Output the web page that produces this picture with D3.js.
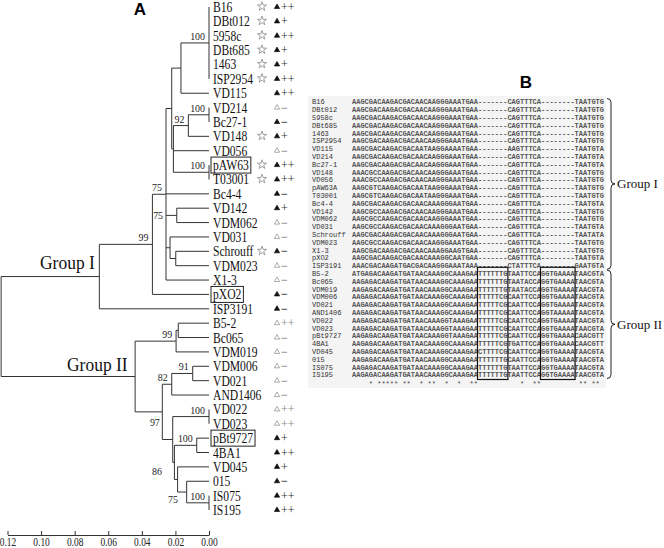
<!DOCTYPE html>
<html><head><meta charset="utf-8">
<script src="https://cdn.jsdelivr.net/npm/d3@7"></script>
<style>body{margin:0;background:#fff}</style>
</head><body>
<svg id="c" width="664" height="548"></svg>
<script>
// ---------- DATA ----------
const leafNames = ["B16","DBt012","5958c","DBt685","1463","ISP2954","VD115","VD214","Bc27-1","VD148","VD056","pAW63","T03001","Bc4-4","VD142","VDM062","VD031","Schrouff","VDM023","X1-3","pXO2","ISP3191","B5-2","Bc065","VDM019","VDM006","VD021","AND1406","VD022","VD023","pBt9727","4BA1","VD045","015","IS075","IS195"];
const hasStar = [1,1,1,1,1,1,0,0,0,1,0,1,1,0,0,0,0,1,0,0,0,0,0,0,0,0,0,0,0,0,0,0,0,0,0,0];
const triangleType = ["f","f","f","f","f","f","f","o","f","f","o","f","f","f","f","o","o","f","o","o","f","f","o","o","o","o","o","o","o","o","f","f","f","f","f","f"];
const activity = ["++","+","++","+","+","++","++","−","−","+","−","++","++","−","+","−","−","−","−","−","−","−","++","−","−","−","−","−","++","++","+","++","+","−","++","++"];
const boxedLeaves = ["pAW63","pXO2","pBt9727"];
const axisTicks = [0.12,0.10,0.08,0.06,0.04,0.02,0.00];

// tree: internal nodes {id, h: distance, b: bootstrap, c: children}; leaves = index into leafNames
const tree = {id:"root", h:0.1238, c:[
  {id:"g1", h:0.0653, c:[
    {id:"n457", h:0.0337, b:"99", c:[
      {id:"n498", h:0.0256, b:"75", c:[
        {id:"n515", h:0.0222, c:[
          {id:"a1", h:0.0167, c:[{id:"t0", h:0, b:"100", c:[0,1,2,3,4,5]}, 6]},
          {id:"nr", h:0.0212, c:[
            {id:"n92", h:0.0123, b:"92", c:[{id:"t7", h:0, b:"100", c:[7,8]}, 9]},
            10,
            {id:"t11", h:0, b:"100", c:[11,12]}
          ]}
        ]},
        13,
        {id:"n530", h:0.0192, b:"75", c:[14,15]},
        {id:"n510", h:0.0232, c:[16, {id:"n527", h:0.0198, c:[17,18]}]},
        19
      ]},
      20
    ]},
    21
  ]},
  {id:"g2", h:0.0440, c:[
    {id:"n99", h:0.0196, b:"99", c:[{id:"nb5", h:0.0183, c:[22,23]}, 24]},
    {id:"n97", h:0.0278, b:"97", c:[
      {id:"n82", h:0.0222, b:"82", c:[{id:"n91", h:0.0097, b:"91", c:[25,26]}, 27]},
      {id:"nq", h:0.0216, c:[
        {id:"t28", h:0, b:"100", c:[28,29]},
        {id:"n86", h:0.0206, b:"86", c:[
          {id:"t30", h:0.0073, b:"100", c:[30,31]},
          {id:"n533", h:0.0187, c:[32, {id:"n560", h:0.0133, b:"75", c:[33, {id:"t34", h:0, b:"100", c:[34,35]}]}]}
        ]}
      ]}
    ]}
  ]}
]};

// panel B alignment
const alignNames = ["B16","DBt012","5958c","DBt685","1463","ISP2954","VD115","VD214","Bc27-1","VD148","VD056","pAW63A","T03001","Bc4-4","VD142","VDM062","VD031","Schrouff","VDM023","X1-3","pXO2","ISP3191","B5-2","Bc065","VDM019","VDM006","VD021","AND1406","VD022","VD023","pBt9727","4BA1","VD045","015","IS075","IS195"];
const alignSeqs = [
"AAGCGACAAGACGACAACAAGGGAAATGAA|-------|CAGTTTCA|--------|TAATGTG",
"AAGCGACAAGACGACAACAAGGGAAATGAA|-------|CAGTTTCA|--------|TAATGTG",
"AAGCGACAAGACGACAACAAGGGAAATGAA|-------|CAGTTTCA|--------|TAATGTG",
"AAGCGACAAGACGACAACAAGGGAAATGAA|-------|CAGTTTCA|--------|TAATGTG",
"AAGCGACAAGACGACAACAAGGGAAATGAA|-------|CAGTTTCA|--------|TAATGTG",
"AAGCGACAAGACGACAACAAGGGAAATGAA|-------|CAGTTTCA|--------|TAATGTG",
"AAGCGACAAGACGACAATAAGGAAAATGAA|-------|AAGTTTCA|--------|TAATGTA",
"AAGCGACAAGACGACAACAAGGGAAATGAA|-------|CAGTTTCA|--------|TAATGTA",
"AAGCGACAAGACGACAACAAGGGAAATGAA|-------|CAGTTTCA|--------|TAATGTA",
"AAACGCCAAGACGACAACAAGGGAAATGAA|-------|CAGTTTCA|--------|TAATGTG",
"AAACGCCAAGACGACAACAAGGGAAATGAA|-------|CAGTTTCA|--------|TAATGTG",
"AAGCGTCAAGACGACAATAAGGGAAATGAA|-------|CAGTTTCA|--------|TAATGTG",
"AAGCGTCAAGACGACAATAAGGGAAATGAA|-------|CAGTTTCA|--------|TAATGTG",
"AAGCGACAAGACGACAACAAAGGGAATGAA|-------|CAGTTTCA|--------|TAATGTA",
"AAGCGCCAAGACGACAACAAGGGAAATGAA|-------|CAGTTTCA|--------|TAATGTG",
"AAGCGCCAAGACGACAACAAGGGAAATGAA|-------|CAGTTTCA|--------|TAATGTG",
"AAGCGCCAAGACGACAACAAAGGGAATGAA|-------|CAGTTTCA|--------|TAATGTA",
"AAGCGACAAGACGACAACAAAGGGAATGAA|-------|CAGTTTCA|--------|TAATATA",
"AAGCGCCAAGACGACAACAAGGGAAATGAA|-------|CAGTTTCA|--------|TAATGTG",
"AAGCGACAAGACGACAACAAAGGAAGTGAA|-------|CAGTTTCA|--------|TAATGTG",
"AAGCGACAAGACGACAACAAAGGCAATGAA|-------|CAGTTTCA|--------|TAATGTA",
"AAACGACAAGATGACGACAAGGGAAATAAA|-------|CTATTTCA|--------|GAATGTA",
"ATGAGACAAGATGATAACAAAGGCAAAGAA|TTTTTTG|TAATTCCA|GGTGAAAA|TAACGTA",
"AAGAGACAAGATGATAACAAAGGCAAAGAA|TTTTTTG|TAATACCA|GGTGAAAA|TAACGTA",
"AAGAGACAAGATGATAACAAAGGCAAAGAA|TTTTTTG|TAATACCA|GGTGAAAA|TAACGTA",
"AAGAGACAAGATGATAACAAAGGCAAAGAA|TTTTTCG|CAATTCCA|GGTGAAAA|TAACGTA",
"AAGAGACAAGATGATAACAAAGGCAAAGAA|TTTTTCG|CAATTCCA|GGTGAAAA|TAACGTA",
"AAGAGACAAGATGATAACAAAGGCAAAGAA|TTTTTCG|CAATTCCA|GGTAAAAA|TAACGTA",
"AAGAGACAAGATGATAACAAAGGTAAAGAA|TTTTTCG|CAATTCCA|GGTGAAAA|TAACGTA",
"AAGAGACAAGATGATAACAAAGGTAAAGAA|TTTTTCG|CAATTCCA|GGTGAAAA|TAACGTA",
"AAGAGACAAGATGATAACAAAGGTAAAGAA|TTTTTCG|CAATTCCA|GGTGAAAA|CAACGTT",
"AAGAGACAAGATGATAACAAAGGCAAAGAA|TTTTTCG|TGATTCCA|GGTGAAAA|CAACGTT",
"AAGAGACAAGATGATAACAAAGGCAAAGAA|CTTTTCG|CAATTCCA|GGTGAAAA|TAACGTA",
"AAGAGACAAGATGATAACAAAGGCAAAGAA|TTTTTTG|CAATTCCA|GGTGAAAA|TAACGTA",
"AAGAGACAAGATGATAACAAAGGCAAAGAA|TTTTTTG|TAATTCCA|GGTGAAAA|TAACGTA",
"AAGAGACAAGATGATAACAAAGGCAAAGAA|TTTTTTG|TAATTCCA|GGTGAAAA|TAACGTA"
];
const conservedCols = [4,6,7,8,9,10,12,13,16,18,19,22,25,28,29,40,43,44,54,55,57,58];
const boxedCols = [[30,37],[45,53]];
const groups = [{name:"Group I", from:0, to:21},{name:"Group II", from:22, to:35}];

// ---------- DRAW ----------
const svg = d3.select("#c");
const serif = "'Liberation Serif','Times New Roman',serif";
const mono = "'Liberation Mono','Courier New',monospace";

const x = d3.scaleLinear().domain([0.12, 0]).range([7.5, 209]);
const y = d3.scaleLinear().domain([0, leafNames.length - 1]).range([7, 510]);

function layout(n){
  if (typeof n === "number") return {leaf:true, i:n, h:0, y:y(n)};
  const kids = n.c.map(layout);
  return {id:n.id, h:n.h, b:n.b, kids, y:(kids[0].y + kids[kids.length-1].y)/2};
}
const root = layout(tree);
const nodes = [];
(function walk(n){ if (n.leaf) return; nodes.push(n); n.kids.forEach(walk); })(root);

const gTree = svg.append("g").attr("stroke","#333").attr("stroke-width",1).attr("fill","none");
nodes.forEach(n => {
  const nx = x(n.h);
  gTree.append("line").attr("x1",nx).attr("x2",nx)
    .attr("y1",n.kids[0].y).attr("y2",n.kids[n.kids.length-1].y);
  n.kids.forEach(k => {
    gTree.append("line").attr("x1",nx).attr("x2",x(k.h)).attr("y1",k.y).attr("y2",k.y);
  });
});

// bootstrap labels
const nudge = {n530:[-9.7,6.6], n97:[1.5,17], n86:[-8.4,15.6], n560:[-4.7,14]};
nodes.filter(n => n.b).forEach(n => {
  const d = nudge[n.id] || [0,0];
  svg.append("text")
    .attr("transform", `translate(${x(n.h) - 4 + d[0]},${n.y - 3 + d[1]}) scale(0.9,1)`)
    .attr("text-anchor","end").attr("font-family",serif).attr("font-size",11).attr("fill","#222")
    .text(n.b);
});

// group labels
svg.append("text").attr("transform","translate(40,268.5) scale(0.92,1)")
  .attr("font-family",serif).attr("font-size",19).attr("fill","#111").text("Group I");
svg.append("text").attr("transform","translate(67,371) scale(0.92,1)")
  .attr("font-family",serif).attr("font-size",19).attr("fill","#111").text("Group II");

// leaves
leafNames.forEach((name, i) => {
  const ly = y(i);
  const t = svg.append("text")
    .attr("transform", `translate(213,${ly + 5}) scale(0.83,1)`)
    .attr("font-family",serif).attr("font-size",14).attr("fill","#111").text(name);
  const w = t.node().getComputedTextLength() * 0.83;
  if (boxedLeaves.includes(name)) {
    svg.append("rect").attr("x",211).attr("y",ly - 8).attr("width",w + 4).attr("height",16)
      .attr("fill","none").attr("stroke","#222").attr("stroke-width",1);
  }
  if (hasStar[i]) {
    svg.append("path").attr("d", d3.symbol(d3.symbolStar, 26)())
      .attr("transform", `translate(${Math.max(262, 213 + w + 6)},${ly - 0.5})`)
      .attr("fill","none").attr("stroke","#8a8a8a").attr("stroke-width",0.8);
  }
  const filled = triangleType[i] === "f";
  svg.append("path").attr("d", d3.symbol(d3.symbolTriangle, 12)())
    .attr("transform", `translate(277,${ly})`)
    .attr("fill", filled ? "#111" : "#fff").attr("stroke", filled ? "#111" : "#888").attr("stroke-width",0.7);
  svg.append("text").attr("x",281).attr("y",ly + 4)
    .attr("font-family",serif).attr("font-size",12).attr("fill", filled ? "#333" : "#888")
    .attr("font-weight", activity[i] === "−" ? "bold" : "normal")
    .text(activity[i]);
});

// axis
const axis = d3.axisBottom(x).tickValues(axisTicks).tickFormat(d3.format(".2f"))
  .tickSizeInner(-4).tickSizeOuter(0).tickPadding(3);
const gAx = svg.append("g").attr("transform","translate(0,535)").call(axis);
gAx.select(".domain").attr("stroke","#333");
gAx.selectAll(".tick line").attr("stroke","#333");
gAx.selectAll(".tick text").attr("font-family",serif).attr("font-size",11.5).attr("fill","#222")
  .attr("transform","scale(0.82,1)");

// panel letters
svg.append("text").attr("x",140).attr("y",15).attr("text-anchor","middle")
  .attr("font-family","'Liberation Sans',Arial,sans-serif").attr("font-weight","bold").attr("font-size",17).text("A");
svg.append("text").attr("x",526).attr("y",88).attr("text-anchor","middle")
  .attr("font-family","'Liberation Sans',Arial,sans-serif").attr("font-weight","bold").attr("font-size",17).text("B");

// ---------- PANEL B ----------
const yB = d3.scaleLinear().domain([0, alignNames.length - 1]).range([102, 375]);
const seqX0 = 352, charW = 4.2, nChar = 60;
const cx = d3.scaleLinear().domain([0, nChar]).range([seqX0, seqX0 + nChar * charW]);

svg.append("rect").attr("x",308).attr("y",96).attr("width",298).attr("height",292).attr("fill","#f4f4f4");

const gB = svg.append("g").attr("font-family",mono).attr("font-size",7);
alignNames.forEach((nm, i) => {
  gB.append("text").attr("x",312).attr("y",yB(i) + 2.4).attr("fill","#333").text(nm);
  gB.append("text").attr("x",seqX0).attr("y",yB(i) + 2.4).attr("fill","#555").attr("font-weight","bold")
    .attr("textLength", nChar * charW).attr("lengthAdjust","spacing")
    .text(alignSeqs[i].replace(/\|/g,""));
});
const stars = Array.from({length:nChar}, (_, k) => conservedCols.includes(k) ? "*" : " ").join("");
gB.append("text").attr("x",seqX0).attr("y",yB(alignNames.length) + 3.5).attr("fill","#444")
  .attr("textLength", nChar * charW).attr("lengthAdjust","spacing")
  .style("white-space","pre").attr("xml:space","preserve").text(stars);

// boxes around group II variable regions
boxedCols.forEach(([c0, c1]) => {
  svg.append("rect").attr("x",cx(c0) - 0.5).attr("y",yB(21) + 1.5)
    .attr("width",cx(c1) - cx(c0) + 1).attr("height",yB(35) - yB(21) + 3)
    .attr("fill","none").attr("stroke","#111").attr("stroke-width",1.2);
});

// braces and group labels
function brace(xb, y0, y1, w){
  const ym = (y0 + y1) / 2, r = 4, xm = xb + w/2;
  return `M${xb},${y0} Q${xm},${y0} ${xm},${y0+r} L${xm},${ym-r} Q${xm},${ym} ${xb+w},${ym} Q${xm},${ym} ${xm},${ym+r} L${xm},${y1-r} Q${xm},${y1} ${xb},${y1}`;
}
groups.forEach(g => {
  const y0 = yB(g.from) - 3.5, y1 = yB(g.to) + 3.5;
  svg.append("path").attr("d", brace(607, y0, y1, 8)).attr("fill","none").attr("stroke","#222").attr("stroke-width",1);
  svg.append("text").attr("x",617).attr("y",(y0 + y1)/2 + 4.5).attr("font-family",serif)
    .attr("font-size",13).attr("fill","#111").text(g.name);
});
</script>
</body></html>
